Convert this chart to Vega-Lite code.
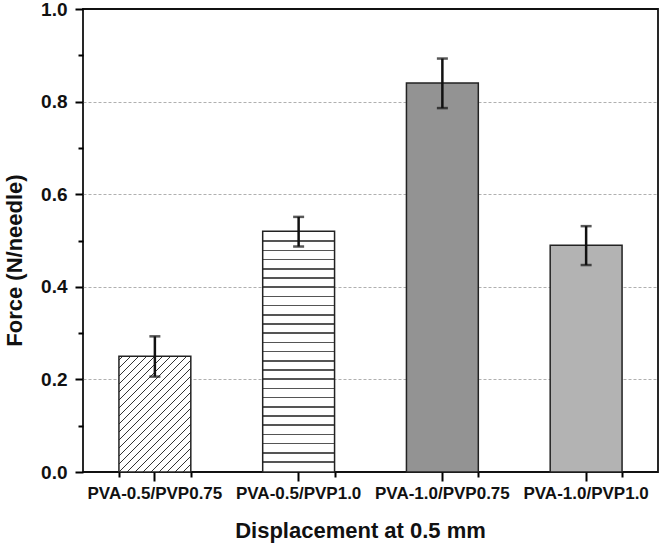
{
 "$schema": "https://vega.github.io/schema/vega-lite/v6.json",
 "width": 575, "height": 463,
 "autosize": "none",
 "padding": {"left": 83, "top": 9, "right": 3, "bottom": 76},
 "background": "white",
 "config": {"view": {"stroke": "#111", "strokeWidth": 1.8}, "font": "Liberation Sans"},
 "data": {"values": [
  {"cat": "PVA-0.5/PVP0.75", "force": 0.25, "lo": 0.206, "hi": 0.293},
  {"cat": "PVA-0.5/PVP1.0", "force": 0.52, "lo": 0.487, "hi": 0.551},
  {"cat": "PVA-1.0/PVP0.75", "force": 0.84, "lo": 0.786, "hi": 0.893},
  {"cat": "PVA-1.0/PVP1.0", "force": 0.49, "lo": 0.447, "hi": 0.531}
 ]},
 "resolve": {"axis": {"x": "independent", "y": "independent"}},
 "layer": [
  {
   "transform": [{"filter": "datum.cat == 'PVA-0.5/PVP0.75'"}],
   "mark": {"type": "bar", "stroke": "#222", "strokeWidth": 1.5, "fill": {"gradient": "linear", "x1": 0, "y1": 0, "x2": 0.72643, "y2": 1.16988, "stops": [
     {"offset": 0, "color": "#fff"},
     {"offset": 0.0175, "color": "#fff"}, {"offset": 0.0175, "color": "#333"}, {"offset": 0.0251, "color": "#333"}, {"offset": 0.0251, "color": "#fff"},
     {"offset": 0.0602, "color": "#fff"}, {"offset": 0.0602, "color": "#333"}, {"offset": 0.0678, "color": "#333"}, {"offset": 0.0678, "color": "#fff"},
     {"offset": 0.1028, "color": "#fff"}, {"offset": 0.1028, "color": "#333"}, {"offset": 0.1104, "color": "#333"}, {"offset": 0.1104, "color": "#fff"},
     {"offset": 0.1454, "color": "#fff"}, {"offset": 0.1454, "color": "#333"}, {"offset": 0.1530, "color": "#333"}, {"offset": 0.1530, "color": "#fff"},
     {"offset": 0.1881, "color": "#fff"}, {"offset": 0.1881, "color": "#333"}, {"offset": 0.1957, "color": "#333"}, {"offset": 0.1957, "color": "#fff"},
     {"offset": 0.2307, "color": "#fff"}, {"offset": 0.2307, "color": "#333"}, {"offset": 0.2383, "color": "#333"}, {"offset": 0.2383, "color": "#fff"},
     {"offset": 0.2734, "color": "#fff"}, {"offset": 0.2734, "color": "#333"}, {"offset": 0.2810, "color": "#333"}, {"offset": 0.2810, "color": "#fff"},
     {"offset": 0.3160, "color": "#fff"}, {"offset": 0.3160, "color": "#333"}, {"offset": 0.3236, "color": "#333"}, {"offset": 0.3236, "color": "#fff"},
     {"offset": 0.3586, "color": "#fff"}, {"offset": 0.3586, "color": "#333"}, {"offset": 0.3662, "color": "#333"}, {"offset": 0.3662, "color": "#fff"},
     {"offset": 0.4013, "color": "#fff"}, {"offset": 0.4013, "color": "#333"}, {"offset": 0.4089, "color": "#333"}, {"offset": 0.4089, "color": "#fff"},
     {"offset": 0.4439, "color": "#fff"}, {"offset": 0.4439, "color": "#333"}, {"offset": 0.4515, "color": "#333"}, {"offset": 0.4515, "color": "#fff"},
     {"offset": 0.4865, "color": "#fff"}, {"offset": 0.4865, "color": "#333"}, {"offset": 0.4941, "color": "#333"}, {"offset": 0.4941, "color": "#fff"},
     {"offset": 0.5292, "color": "#fff"}, {"offset": 0.5292, "color": "#333"}, {"offset": 0.5368, "color": "#333"}, {"offset": 0.5368, "color": "#fff"},
     {"offset": 0.5718, "color": "#fff"}, {"offset": 0.5718, "color": "#333"}, {"offset": 0.5794, "color": "#333"}, {"offset": 0.5794, "color": "#fff"},
     {"offset": 0.6145, "color": "#fff"}, {"offset": 0.6145, "color": "#333"}, {"offset": 0.6221, "color": "#333"}, {"offset": 0.6221, "color": "#fff"},
     {"offset": 0.6571, "color": "#fff"}, {"offset": 0.6571, "color": "#333"}, {"offset": 0.6647, "color": "#333"}, {"offset": 0.6647, "color": "#fff"},
     {"offset": 0.6997, "color": "#fff"}, {"offset": 0.6997, "color": "#333"}, {"offset": 0.7073, "color": "#333"}, {"offset": 0.7073, "color": "#fff"},
     {"offset": 0.7424, "color": "#fff"}, {"offset": 0.7424, "color": "#333"}, {"offset": 0.7500, "color": "#333"}, {"offset": 0.7500, "color": "#fff"},
     {"offset": 0.7850, "color": "#fff"}, {"offset": 0.7850, "color": "#333"}, {"offset": 0.7926, "color": "#333"}, {"offset": 0.7926, "color": "#fff"},
     {"offset": 0.8276, "color": "#fff"}, {"offset": 0.8276, "color": "#333"}, {"offset": 0.8352, "color": "#333"}, {"offset": 0.8352, "color": "#fff"},
     {"offset": 0.8703, "color": "#fff"}, {"offset": 0.8703, "color": "#333"}, {"offset": 0.8779, "color": "#333"}, {"offset": 0.8779, "color": "#fff"},
     {"offset": 0.9129, "color": "#fff"}, {"offset": 0.9129, "color": "#333"}, {"offset": 0.9205, "color": "#333"}, {"offset": 0.9205, "color": "#fff"},
     {"offset": 0.9556, "color": "#fff"}, {"offset": 0.9556, "color": "#333"}, {"offset": 0.9632, "color": "#333"}, {"offset": 0.9632, "color": "#fff"},
     {"offset": 1, "color": "#fff"}
   ]}},
   "encoding": {
    "x": {"field": "cat", "type": "nominal", "sort": null,
      "scale": {"domain": ["PVA-0.5/PVP0.75", "PVA-0.5/PVP1.0", "PVA-1.0/PVP0.75", "PVA-1.0/PVP1.0"], "paddingInner": 0.5, "paddingOuter": 0.25},
      "axis": {"orient": "bottom", "offset": 9, "title": "Displacement at 0.5 mm", "labelAngle": 0, "ticks": true, "tickSize": -9, "tickColor": "#000", "tickWidth": 2, "tickCap": "butt", "zindex": 1,
        "domain": false, "labelFont": "Liberation Sans", "labelFontWeight": "bold", "labelFontSize": 17,
        "labelColor": "#111", "labelPadding": 13, "titleFont": "Liberation Sans", "titleFontSize": 22, "titleFontWeight": "bold",
        "titleColor": "#111", "titlePadding": 19, "titleX": 277, "grid": false}},
    "y": {"field": "force", "type": "quantitative", "scale": {"domain": [0, 1], "nice": false},
      "axis": {"orient": "left", "offset": 8, "values": [0, 0.2, 0.4, 0.6, 0.8, 1.0], "format": ".1f",
        "ticks": true, "tickSize": -8, "tickColor": "#000", "tickWidth": 2, "tickCap": "butt", "zindex": 1, "domain": false,
        "labelFont": "Liberation Sans", "labelFontWeight": "bold", "labelFontSize": 19, "labelColor": "#111", "labelPadding": 16,
        "grid": false,
        "title": "Force (N/needle)", "titleFont": "Liberation Sans", "titleFontSize": 22, "titleFontWeight": "bold", "titleColor": "#111", "titlePadding": 14, "titleY": 251}}
   }
  },
  {
   "transform": [{"filter": "datum.cat == 'PVA-0.5/PVP1.0'"}],
   "mark": {"type": "bar", "stroke": "#222", "strokeWidth": 1.5, "fill": {"gradient": "linear", "x1": 0, "y1": 0, "x2": 0, "y2": 1, "stops": [
     {"offset": 0, "color": "#fff"},
     {"offset": 0.0382, "color": "#fff"}, {"offset": 0.0382, "color": "#555"}, {"offset": 0.0448, "color": "#555"}, {"offset": 0.0448, "color": "#fff"},
     {"offset": 0.0764, "color": "#fff"}, {"offset": 0.0764, "color": "#555"}, {"offset": 0.0830, "color": "#555"}, {"offset": 0.0830, "color": "#fff"},
     {"offset": 0.1146, "color": "#fff"}, {"offset": 0.1146, "color": "#555"}, {"offset": 0.1212, "color": "#555"}, {"offset": 0.1212, "color": "#fff"},
     {"offset": 0.1528, "color": "#fff"}, {"offset": 0.1528, "color": "#555"}, {"offset": 0.1594, "color": "#555"}, {"offset": 0.1594, "color": "#fff"},
     {"offset": 0.1911, "color": "#fff"}, {"offset": 0.1911, "color": "#555"}, {"offset": 0.1977, "color": "#555"}, {"offset": 0.1977, "color": "#fff"},
     {"offset": 0.2293, "color": "#fff"}, {"offset": 0.2293, "color": "#555"}, {"offset": 0.2359, "color": "#555"}, {"offset": 0.2359, "color": "#fff"},
     {"offset": 0.2675, "color": "#fff"}, {"offset": 0.2675, "color": "#555"}, {"offset": 0.2741, "color": "#555"}, {"offset": 0.2741, "color": "#fff"},
     {"offset": 0.3057, "color": "#fff"}, {"offset": 0.3057, "color": "#555"}, {"offset": 0.3123, "color": "#555"}, {"offset": 0.3123, "color": "#fff"},
     {"offset": 0.3439, "color": "#fff"}, {"offset": 0.3439, "color": "#555"}, {"offset": 0.3505, "color": "#555"}, {"offset": 0.3505, "color": "#fff"},
     {"offset": 0.3821, "color": "#fff"}, {"offset": 0.3821, "color": "#555"}, {"offset": 0.3887, "color": "#555"}, {"offset": 0.3887, "color": "#fff"},
     {"offset": 0.4203, "color": "#fff"}, {"offset": 0.4203, "color": "#555"}, {"offset": 0.4269, "color": "#555"}, {"offset": 0.4269, "color": "#fff"},
     {"offset": 0.4585, "color": "#fff"}, {"offset": 0.4585, "color": "#555"}, {"offset": 0.4651, "color": "#555"}, {"offset": 0.4651, "color": "#fff"},
     {"offset": 0.4967, "color": "#fff"}, {"offset": 0.4967, "color": "#555"}, {"offset": 0.5033, "color": "#555"}, {"offset": 0.5033, "color": "#fff"},
     {"offset": 0.5349, "color": "#fff"}, {"offset": 0.5349, "color": "#555"}, {"offset": 0.5415, "color": "#555"}, {"offset": 0.5415, "color": "#fff"},
     {"offset": 0.5731, "color": "#fff"}, {"offset": 0.5731, "color": "#555"}, {"offset": 0.5797, "color": "#555"}, {"offset": 0.5797, "color": "#fff"},
     {"offset": 0.6113, "color": "#fff"}, {"offset": 0.6113, "color": "#555"}, {"offset": 0.6179, "color": "#555"}, {"offset": 0.6179, "color": "#fff"},
     {"offset": 0.6495, "color": "#fff"}, {"offset": 0.6495, "color": "#555"}, {"offset": 0.6561, "color": "#555"}, {"offset": 0.6561, "color": "#fff"},
     {"offset": 0.6877, "color": "#fff"}, {"offset": 0.6877, "color": "#555"}, {"offset": 0.6943, "color": "#555"}, {"offset": 0.6943, "color": "#fff"},
     {"offset": 0.7259, "color": "#fff"}, {"offset": 0.7259, "color": "#555"}, {"offset": 0.7325, "color": "#555"}, {"offset": 0.7325, "color": "#fff"},
     {"offset": 0.7641, "color": "#fff"}, {"offset": 0.7641, "color": "#555"}, {"offset": 0.7707, "color": "#555"}, {"offset": 0.7707, "color": "#fff"},
     {"offset": 0.8023, "color": "#fff"}, {"offset": 0.8023, "color": "#555"}, {"offset": 0.8089, "color": "#555"}, {"offset": 0.8089, "color": "#fff"},
     {"offset": 0.8406, "color": "#fff"}, {"offset": 0.8406, "color": "#555"}, {"offset": 0.8472, "color": "#555"}, {"offset": 0.8472, "color": "#fff"},
     {"offset": 0.8788, "color": "#fff"}, {"offset": 0.8788, "color": "#555"}, {"offset": 0.8854, "color": "#555"}, {"offset": 0.8854, "color": "#fff"},
     {"offset": 0.9170, "color": "#fff"}, {"offset": 0.9170, "color": "#555"}, {"offset": 0.9236, "color": "#555"}, {"offset": 0.9236, "color": "#fff"},
     {"offset": 0.9552, "color": "#fff"}, {"offset": 0.9552, "color": "#555"}, {"offset": 0.9618, "color": "#555"}, {"offset": 0.9618, "color": "#fff"},
     {"offset": 1, "color": "#fff"}
   ]}},
   "encoding": {
    "x": {"field": "cat", "type": "nominal", "sort": null, "axis": null},
    "y": {"field": "force", "type": "quantitative",
      "axis": {"orient": "left", "values": [0.2, 0.4, 0.6, 0.8], "ticks": false, "labels": false, "domain": false, "title": null,
        "grid": true, "gridDash": [3, 2], "gridColor": "#b0b0b0", "gridWidth": 1, "zindex": 0}}
   }
  },
  {
   "transform": [{"filter": "datum.cat == 'PVA-1.0/PVP0.75'"}],
   "mark": {"type": "bar", "stroke": "#222", "strokeWidth": 1.5, "fill": "#939393"},
   "encoding": {
    "x": {"field": "cat", "type": "nominal", "sort": null, "axis": null},
    "y": {"field": "force", "type": "quantitative", "axis": null}
   }
  },
  {
   "transform": [{"filter": "datum.cat == 'PVA-1.0/PVP1.0'"}],
   "mark": {"type": "bar", "stroke": "#222", "strokeWidth": 1.5, "fill": "#b3b3b3"},
   "encoding": {
    "x": {"field": "cat", "type": "nominal", "sort": null, "axis": null},
    "y": {"field": "force", "type": "quantitative", "axis": null}
   }
  },
  {
   "mark": {"type": "rule", "color": "#111", "strokeWidth": 2.5},
   "encoding": {
    "x": {"field": "cat", "type": "nominal", "sort": null,
      "axis": {"orient": "bottom", "offset": 5, "tickBand": "extent", "ticks": true, "tickSize": -5, "tickColor": "#000", "tickWidth": 2, "zindex": 1, "labels": false, "domain": false, "grid": false, "title": null}},
    "y": {"field": "lo", "type": "quantitative",
      "axis": {"orient": "left", "offset": 5, "values": [0.1, 0.3, 0.5, 0.7, 0.9], "ticks": true, "tickSize": -5, "tickColor": "#000", "tickWidth": 2, "zindex": 1,
        "labels": false, "domain": false, "title": null, "grid": false}},
    "y2": {"field": "hi"}
   }
  },
  {
   "mark": {"type": "tick", "color": "#111", "thickness": 2.5, "size": 11},
   "encoding": {
    "x": {"field": "cat", "type": "nominal", "sort": null, "axis": null},
    "y": {"field": "lo", "type": "quantitative", "axis": null}
   }
  },
  {
   "mark": {"type": "tick", "color": "#111", "thickness": 2.5, "size": 11},
   "encoding": {
    "x": {"field": "cat", "type": "nominal", "sort": null, "axis": null},
    "y": {"field": "hi", "type": "quantitative", "axis": null}
   }
  }
 ]
}
